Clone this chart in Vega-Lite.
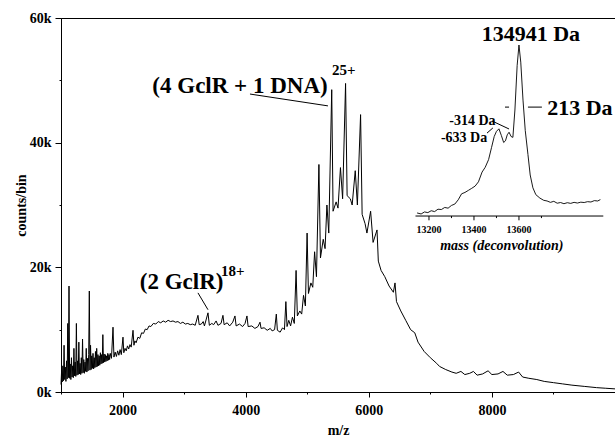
{
  "$schema": "https://vega.github.io/schema/vega-lite/v6.json",
  "width": 554,
  "height": 374,
  "autosize": {"type": "none"},
  "padding": {"left": 61, "top": 18, "right": 0, "bottom": 46},
  "background": "white",
  "config": {
    "view": {"stroke": "black", "strokeWidth": 1},
    "font": "Liberation Serif",
    "text": {"font": "Liberation Serif", "fontWeight": "bold", "color": "black"}
  },
  "datasets": {
    "spectrum": [
      {"m":1000,"c":1.2},{"m":1010,"c":3.5},{"m":1020,"c":1.6},{"m":1030,"c":4.2},{"m":1040,"c":1.8},{"m":1050,"c":7.5},{"m":1060,"c":2.0},{"m":1070,"c":4.0},{"m":1080,"c":1.7},{"m":1090,"c":5.0},
      {"m":1100,"c":2.1},{"m":1110,"c":11.0},{"m":1120,"c":2.3},{"m":1130,"c":17.0},{"m":1140,"c":2.2},{"m":1150,"c":4.5},{"m":1160,"c":2.0},{"m":1170,"c":5.5},{"m":1180,"c":2.4},{"m":1190,"c":4.2},
      {"m":1200,"c":2.3},{"m":1210,"c":7.0},{"m":1220,"c":2.6},{"m":1230,"c":4.8},{"m":1240,"c":2.5},{"m":1250,"c":11.0},{"m":1260,"c":2.7},{"m":1270,"c":5.0},{"m":1280,"c":2.8},{"m":1290,"c":8.0},
      {"m":1300,"c":2.9},{"m":1310,"c":4.6},{"m":1320,"c":2.8},{"m":1330,"c":5.5},{"m":1340,"c":3.0},{"m":1350,"c":8.5},{"m":1360,"c":3.1},{"m":1370,"c":5.2},{"m":1380,"c":3.0},{"m":1390,"c":4.8},
      {"m":1400,"c":3.3},{"m":1410,"c":7.0},{"m":1420,"c":3.2},{"m":1430,"c":5.4},{"m":1440,"c":3.4},{"m":1450,"c":6.0},{"m":1460,"c":16.2},{"m":1470,"c":3.5},{"m":1480,"c":7.5},{"m":1490,"c":3.6},
      {"m":1500,"c":5.8},{"m":1510,"c":3.8},{"m":1520,"c":6.2},{"m":1530,"c":3.7},{"m":1540,"c":5.5},{"m":1550,"c":3.9},{"m":1560,"c":6.5},{"m":1570,"c":4.0},{"m":1580,"c":7.0},{"m":1590,"c":4.1},
      {"m":1600,"c":6.0},{"m":1610,"c":4.2},{"m":1620,"c":5.8},{"m":1630,"c":4.3},{"m":1640,"c":6.3},{"m":1650,"c":4.5},{"m":1660,"c":6.0},{"m":1670,"c":4.6},{"m":1680,"c":9.2},{"m":1690,"c":4.7},
      {"m":1700,"c":6.1},{"m":1710,"c":4.8},{"m":1720,"c":6.0},{"m":1730,"c":4.9},{"m":1740,"c":5.8},{"m":1750,"c":5.0},{"m":1760,"c":6.2},{"m":1770,"c":5.1},{"m":1780,"c":6.0},{"m":1790,"c":5.2},
      {"m":1800,"c":6.2},{"m":1820,"c":5.4},{"m":1845,"c":10.4},{"m":1860,"c":5.6},{"m":1880,"c":6.4},{"m":1900,"c":5.7},{"m":1920,"c":6.6},{"m":1940,"c":5.9},{"m":1960,"c":6.8},{"m":1980,"c":6.0},
      {"m":2007,"c":8.8},{"m":2020,"c":6.3},{"m":2040,"c":7.0},{"m":2060,"c":6.6},{"m":2080,"c":7.4},{"m":2100,"c":6.9},{"m":2120,"c":7.6},{"m":2140,"c":7.2},{"m":2170,"c":9.9},{"m":2185,"c":7.5},
      {"m":2200,"c":8.2},{"m":2220,"c":7.9},{"m":2250,"c":8.8},{"m":2280,"c":8.6},{"m":2310,"c":9.5},{"m":2340,"c":9.4},{"m":2370,"c":10.1},{"m":2400,"c":10.0},{"m":2430,"c":10.6},{"m":2460,"c":10.5},
      {"m":2500,"c":11.0},{"m":2540,"c":10.9},{"m":2580,"c":11.3},{"m":2620,"c":11.1},{"m":2660,"c":11.4},{"m":2700,"c":11.2},{"m":2740,"c":11.5},{"m":2780,"c":11.3},{"m":2820,"c":11.4},{"m":2860,"c":11.2},
      {"m":2900,"c":11.3},{"m":2940,"c":11.0},{"m":2980,"c":11.2},{"m":3020,"c":10.9},{"m":3060,"c":11.0},{"m":3100,"c":10.8},{"m":3140,"c":10.9},{"m":3180,"c":10.7},{"m":3225,"c":12.3},{"m":3245,"c":10.8},
      {"m":3280,"c":10.9},{"m":3310,"c":11.3},{"m":3330,"c":10.6},{"m":3388,"c":12.7},{"m":3410,"c":10.7},{"m":3450,"c":11.0},{"m":3480,"c":10.8},{"m":3520,"c":11.4},{"m":3550,"c":10.7},{"m":3600,"c":11.0},
      {"m":3631,"c":12.3},{"m":3650,"c":10.8},{"m":3700,"c":11.1},{"m":3740,"c":10.6},{"m":3790,"c":11.2},{"m":3826,"c":12.2},{"m":3845,"c":10.6},{"m":3900,"c":10.9},{"m":3950,"c":10.5},{"m":3990,"c":11.0},
      {"m":4021,"c":12.2},{"m":4040,"c":10.5},{"m":4100,"c":10.6},{"m":4150,"c":10.2},{"m":4200,"c":10.5},{"m":4233,"c":11.2},{"m":4250,"c":10.2},{"m":4300,"c":10.3},{"m":4350,"c":9.9},{"m":4400,"c":10.2},
      {"m":4430,"c":9.8},{"m":4470,"c":10.0},{"m":4498,"c":12.5},{"m":4515,"c":9.9},{"m":4560,"c":9.6},{"m":4600,"c":10.3},{"m":4630,"c":10.0},{"m":4653,"c":14.5},{"m":4672,"c":10.5},{"m":4700,"c":11.5},
      {"m":4730,"c":10.6},{"m":4760,"c":12.0},{"m":4790,"c":11.0},{"m":4819,"c":19.5},{"m":4840,"c":12.2},{"m":4880,"c":13.0},{"m":4910,"c":12.5},{"m":4940,"c":15.5},{"m":4970,"c":13.8},{"m":4998,"c":25.5},
      {"m":5020,"c":15.8},{"m":5060,"c":17.5},{"m":5090,"c":16.8},{"m":5120,"c":22.5},{"m":5150,"c":18.5},{"m":5190,"c":36.5},{"m":5215,"c":21.5},{"m":5260,"c":24.5},{"m":5290,"c":23.0},{"m":5320,"c":30.0},
      {"m":5350,"c":25.5},{"m":5398,"c":48.5},{"m":5420,"c":29.0},{"m":5470,"c":30.5},{"m":5500,"c":29.5},{"m":5540,"c":36.0},{"m":5575,"c":31.0},{"m":5623,"c":49.5},{"m":5648,"c":31.5},{"m":5700,"c":31.0},
      {"m":5730,"c":30.0},{"m":5780,"c":35.5},{"m":5815,"c":30.0},{"m":5867,"c":44.5},{"m":5892,"c":28.5},{"m":5940,"c":27.0},{"m":5970,"c":25.5},{"m":6030,"c":29.0},{"m":6070,"c":24.0},{"m":6134,"c":26.0},
      {"m":6155,"c":21.0},{"m":6200,"c":19.5},{"m":6260,"c":18.5},{"m":6330,"c":17.0},{"m":6400,"c":16.0},{"m":6426,"c":17.5},{"m":6450,"c":14.5},{"m":6520,"c":13.0},{"m":6600,"c":11.5},{"m":6680,"c":10.0},
      {"m":6747,"c":9.5},{"m":6800,"c":8.0},{"m":6900,"c":6.5},{"m":7000,"c":5.5},{"m":7102,"c":4.6},{"m":7150,"c":4.1},{"m":7250,"c":3.6},{"m":7350,"c":3.2},{"m":7420,"c":3.0},{"m":7497,"c":3.3},
      {"m":7560,"c":2.8},{"m":7640,"c":3.0},{"m":7700,"c":3.3},{"m":7760,"c":2.7},{"m":7850,"c":2.9},{"m":7938,"c":3.4},{"m":8000,"c":2.8},{"m":8100,"c":2.9},{"m":8180,"c":3.3},{"m":8250,"c":2.7},
      {"m":8350,"c":2.8},{"m":8434,"c":3.2},{"m":8500,"c":2.4},{"m":8600,"c":2.2},{"m":8730,"c":2.0},{"m":8850,"c":1.7},{"m":9000,"c":1.5},{"m":9150,"c":1.3},{"m":9300,"c":1.1},{"m":9500,"c":0.9},
      {"m":9700,"c":0.7},{"m":9850,"c":0.6},{"m":10000,"c":0.5}
    ],
    "inset": [
      {"v":13147,"i":1.8},{"v":13165,"i":1.2},{"v":13180,"i":2.4},{"v":13195,"i":2.0},{"v":13210,"i":3.1},{"v":13225,"i":2.6},{"v":13240,"i":4.0},{"v":13255,"i":3.8},{"v":13270,"i":5.0},{"v":13285,"i":4.6},
      {"v":13300,"i":6.2},{"v":13315,"i":7.0},{"v":13330,"i":9.5},{"v":13345,"i":13.0},{"v":13360,"i":13.8},{"v":13375,"i":15.0},{"v":13390,"i":16.2},{"v":13405,"i":17.5},{"v":13420,"i":20.0},{"v":13436,"i":25.7},
      {"v":13450,"i":28.5},{"v":13465,"i":33.0},{"v":13478,"i":40.0},{"v":13490,"i":46.5},{"v":13500,"i":49.5},{"v":13511,"i":51.0},{"v":13522,"i":47.0},{"v":13532,"i":43.0},{"v":13540,"i":44.0},{"v":13548,"i":47.5},
      {"v":13556,"i":49.0},{"v":13565,"i":46.5},{"v":13573,"i":46.0},{"v":13582,"i":62.0},{"v":13592,"i":88.0},{"v":13600,"i":100},{"v":13608,"i":90.0},{"v":13618,"i":67.8},{"v":13628,"i":50.0},{"v":13640,"i":36.0},
      {"v":13650,"i":24.0},{"v":13662,"i":16.5},{"v":13675,"i":12.5},{"v":13693,"i":10.5},{"v":13710,"i":9.2},{"v":13725,"i":8.8},{"v":13740,"i":8.0},{"v":13755,"i":8.6},{"v":13770,"i":7.5},{"v":13785,"i":7.9},
      {"v":13800,"i":7.2},{"v":13815,"i":7.8},{"v":13830,"i":7.4},{"v":13845,"i":8.0},{"v":13860,"i":7.6},{"v":13875,"i":8.1},{"v":13890,"i":7.9},{"v":13905,"i":8.4},{"v":13920,"i":8.2},{"v":13935,"i":9.0},
      {"v":13950,"i":8.8},{"v":13962,"i":9.6}
    ]
  },
  "layer": [
    {
      "data": {"name": "spectrum"},
      "mark": {"type": "line", "color": "black", "strokeWidth": 1},
      "encoding": {
        "x": {"field": "m", "type": "quantitative",
              "scale": {"domain": [1000, 10000], "nice": false, "zero": false},
              "axis": {"title": "m/z", "values": [1000,2000,3000,4000,5000,6000,7000,8000,9000,10000],
                       "format": "d",
                       "labelExpr": "datum.value % 2000 == 0 && datum.value < 10000 ? datum.label : ''",
                       "grid": false, "domainColor": "black", "tickColor": "black",
                       "tickSize": {"condition": {"test": "datum.value % 2000 == 0", "value": 5}, "value": 2},
                       "labelFont": "Liberation Serif", "labelFontWeight": "bold", "labelFontSize": 14, "labelColor": "black",
                       "labelPadding": 6, "labelFlush": false,
                       "titleFont": "Liberation Serif", "titleFontWeight": "bold", "titleFontSize": 14, "titleColor": "black", "titlePadding": 6}},
        "y": {"field": "c", "type": "quantitative",
              "scale": {"domain": [0, 60], "nice": false, "zero": false},
              "axis": {"title": "counts/bin", "values": [0,10,20,30,40,50,60],
                       "labelExpr": "datum.value % 20 == 0 ? datum.value + 'k' : ''",
                       "grid": false, "domainColor": "black", "tickColor": "black",
                       "tickSize": {"condition": {"test": "datum.value % 20 == 0", "value": 6}, "value": 2},
                       "labelFont": "Liberation Serif", "labelFontWeight": "bold", "labelFontSize": 14, "labelColor": "black",
                       "labelPadding": 4, "labelFlush": false,
                       "titleFont": "Liberation Serif", "titleFontWeight": "bold", "titleFontSize": 14, "titleColor": "black", "titlePadding": 1}}
      }
    },
    {
      "data": {"values": [
        {"m": 3908, "c": 49.1, "t": "(4 GclR + 1 DNA)"},
        {"m": 2960, "c": 17.65, "t": "(2 GclR)"}
      ]},
      "mark": {"type": "text", "fontSize": 23, "align": "center", "baseline": "middle"},
      "encoding": {
        "x": {"field": "m", "type": "quantitative", "scale": {"domain": [1000, 10000], "nice": false, "zero": false}, "axis": null},
        "y": {"field": "c", "type": "quantitative", "scale": {"domain": [0, 60], "nice": false, "zero": false}, "axis": null},
        "text": {"field": "t"}
      }
    },
    {
      "data": {"values": [
        {"m": 5402, "c": 51.7, "t": "25+"},
        {"m": 3600, "c": 19.4, "t": "18+"}
      ]},
      "mark": {"type": "text", "fontSize": 15, "align": "left", "baseline": "middle"},
      "encoding": {
        "x": {"field": "m", "type": "quantitative", "scale": {"domain": [1000, 10000], "nice": false, "zero": false}, "axis": null},
        "y": {"field": "c", "type": "quantitative", "scale": {"domain": [0, 60], "nice": false, "zero": false}, "axis": null},
        "text": {"field": "t"}
      }
    },
    {
      "data": {"values": [
        {"m": 4070, "c": 47.8, "m2": 5337, "c2": 45.9},
        {"m": 3225, "c": 15.9, "m2": 3388, "c2": 13.2}
      ]},
      "mark": {"type": "rule", "color": "black", "strokeWidth": 1},
      "encoding": {
        "x": {"field": "m", "type": "quantitative", "scale": {"domain": [1000, 10000], "nice": false, "zero": false}, "axis": null},
        "y": {"field": "c", "type": "quantitative", "scale": {"domain": [0, 60], "nice": false, "zero": false}, "axis": null},
        "x2": {"field": "m2"},
        "y2": {"field": "c2"}
      }
    },
    {
      "data": {"name": "inset"},
      "mark": {"type": "line", "color": "black", "strokeWidth": 0.9},
      "encoding": {
        "x": {"field": "v", "type": "quantitative", "scale": {"domain": [11564, 14027], "nice": false, "zero": false}, "axis": null},
        "y": {"field": "i", "type": "quantitative", "scale": {"domain": [-102.9, 115.8], "nice": false, "zero": false}, "axis": null}
      }
    },
    {
      "data": {"values": [
        {"v": 13140, "i": 0, "v2": 13975, "i2": 0},
        {"v": 13200, "i": 0, "v2": 13200, "i2": -2.5},
        {"v": 13300, "i": 0, "v2": 13300, "i2": -1.2},
        {"v": 13400, "i": 0, "v2": 13400, "i2": -2.5},
        {"v": 13500, "i": 0, "v2": 13500, "i2": -1.2},
        {"v": 13600, "i": 0, "v2": 13600, "i2": -2.5},
        {"v": 13700, "i": 0, "v2": 13700, "i2": -1.2},
        {"v": 13640, "i": 63.7, "v2": 13702, "i2": 63.7},
        {"v": 13538, "i": 63.7, "v2": 13556, "i2": 63.7},
        {"v": 13480, "i": 55.6, "v2": 13556, "i2": 50.9},
        {"v": 13458, "i": 48.5, "v2": 13484, "i2": 51.5}
      ]},
      "mark": {"type": "rule", "color": "black", "strokeWidth": 1},
      "encoding": {
        "x": {"field": "v", "type": "quantitative", "scale": {"domain": [11564, 14027], "nice": false, "zero": false}, "axis": null},
        "y": {"field": "i", "type": "quantitative", "scale": {"domain": [-102.9, 115.8], "nice": false, "zero": false}, "axis": null},
        "x2": {"field": "v2"},
        "y2": {"field": "i2"}
      }
    },
    {
      "data": {"values": [
        {"v": 13200, "i": -8.2, "t": "13200"},
        {"v": 13400, "i": -8.2, "t": "13400"},
        {"v": 13600, "i": -8.2, "t": "13600"}
      ]},
      "mark": {"type": "text", "fontSize": 10, "align": "center", "baseline": "middle"},
      "encoding": {
        "x": {"field": "v", "type": "quantitative", "scale": {"domain": [11564, 14027], "nice": false, "zero": false}, "axis": null},
        "y": {"field": "i", "type": "quantitative", "scale": {"domain": [-102.9, 115.8], "nice": false, "zero": false}, "axis": null},
        "text": {"field": "t"}
      }
    },
    {
      "data": {"values": [
        {"v": 13524, "i": -17.5, "t": "mass (deconvolution)"}
      ]},
      "mark": {"type": "text", "fontSize": 14, "fontStyle": "italic", "align": "center", "baseline": "middle"},
      "encoding": {
        "x": {"field": "v", "type": "quantitative", "scale": {"domain": [11564, 14027], "nice": false, "zero": false}, "axis": null},
        "y": {"field": "i", "type": "quantitative", "scale": {"domain": [-102.9, 115.8], "nice": false, "zero": false}, "axis": null},
        "text": {"field": "t"}
      }
    },
    {
      "data": {"values": [
        {"v": 13653, "i": 106.7, "t": "134941 Da"},
        {"v": 13871, "i": 63.2, "t": "213 Da"}
      ]},
      "mark": {"type": "text", "fontSize": 22, "align": "center", "baseline": "middle"},
      "encoding": {
        "x": {"field": "v", "type": "quantitative", "scale": {"domain": [11564, 14027], "nice": false, "zero": false}, "axis": null},
        "y": {"field": "i", "type": "quantitative", "scale": {"domain": [-102.9, 115.8], "nice": false, "zero": false}, "axis": null},
        "text": {"field": "t"}
      }
    },
    {
      "data": {"values": [
        {"v": 13393, "i": 55.3, "t": "-314 Da"},
        {"v": 13356, "i": 45.9, "t": "-633 Da"}
      ]},
      "mark": {"type": "text", "fontSize": 14, "align": "center", "baseline": "middle"},
      "encoding": {
        "x": {"field": "v", "type": "quantitative", "scale": {"domain": [11564, 14027], "nice": false, "zero": false}, "axis": null},
        "y": {"field": "i", "type": "quantitative", "scale": {"domain": [-102.9, 115.8], "nice": false, "zero": false}, "axis": null},
        "text": {"field": "t"}
      }
    }
  ],
  "resolve": {"scale": {"x": "independent", "y": "independent"}, "axis": {"x": "independent", "y": "independent"}}
}
